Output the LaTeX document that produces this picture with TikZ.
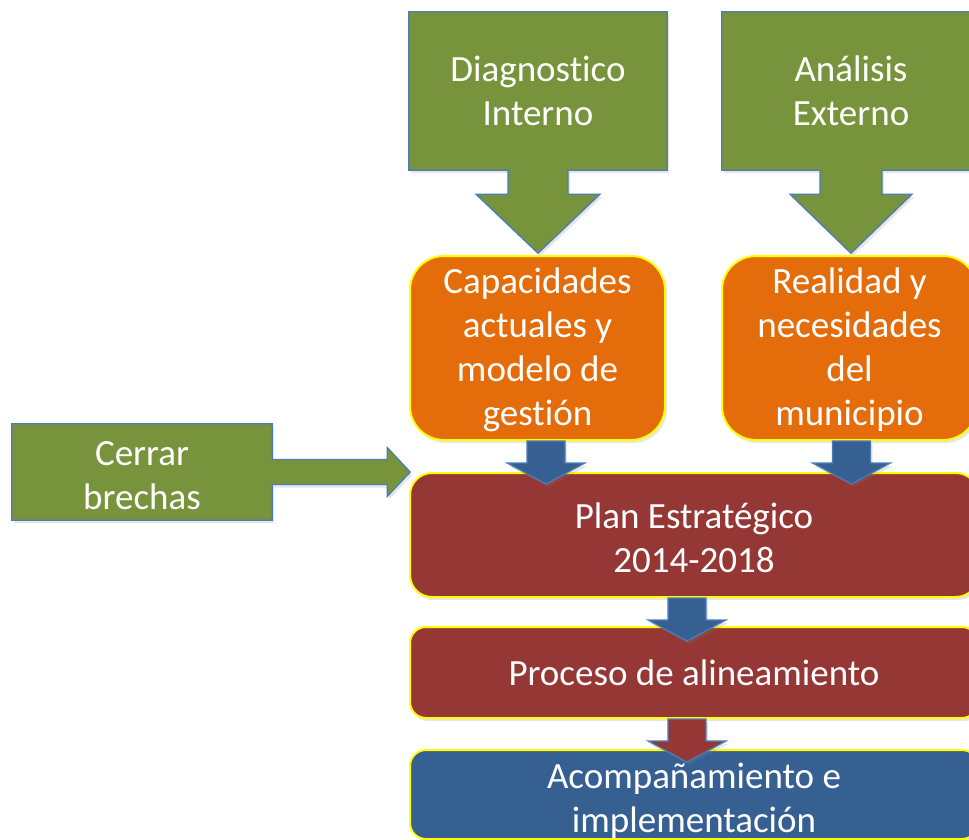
\documentclass[tikz,border=0pt]{standalone}
\usepackage{fontspec}
\setmainfont[Ligatures=NoCommon]{Carlito}
\usetikzlibrary{shadows,calc}
\definecolor{grn}{HTML}{77933C}
\definecolor{bord}{HTML}{4A7EBB}
\definecolor{org}{HTML}{E46C0A}
\definecolor{redb}{HTML}{953735}
\definecolor{blu}{HTML}{376092}
\definecolor{yel}{HTML}{FFFF00}
\pgfdeclarelayer{bg}
\pgfsetlayers{bg,main}
\tikzset{
  shad/.style={drop shadow={shadow xshift=2pt,shadow yshift=-3pt,opacity=0.2}},
  lbl/.style={text=white,align=center,font=\fontsize{37}{44}\selectfont,inner sep=0pt},
  gshape/.style={fill=grn,draw=bord,line width=1.3pt,shad},
  rbox/.style={draw=yel,line width=2pt,shad,inner sep=0pt},
  darrow/.pic={\draw[pic actions,line width=1.2pt,shad] (-19,0) -- (-19,22) -- (-39,22) -- (0,43) -- (39,22) -- (19,22) -- (19,0) -- cycle;}
}
\begin{document}
\begin{tikzpicture}[x=1pt,y=-1pt]
\useasboundingbox (0,0) rectangle (969,840);

% label nodes for the green block shapes
\node[lbl,minimum width=258pt,minimum height=158pt] (diag) at (538,91) {Diagnostico\\Interno};
\node[lbl,minimum width=258pt,minimum height=158pt] (anal) at (851,91) {Análisis\\Externo};
\node[minimum width=260pt,minimum height=96pt,inner sep=0pt] (cerr) at (142,472) {};
\node[lbl] (cerrt) at ($(cerr)+(0,4)$) {Cerrar\\brechas};

\begin{pgfonlayer}{bg}
\draw[gshape] (diag.north west) -- (diag.north east) -- (diag.south east)
  -- ($(diag.south)+(30,0)$) -- ++(0,24) -- ++(32,0) -- ($(diag.south)+(0,83)$)
  -- ($(diag.south)+(-62,24)$) -- ++(32,0) -- ($(diag.south)+(-30,0)$)
  -- (diag.south west) -- cycle;
\draw[gshape] (anal.north west) -- (anal.north east) -- (anal.south east)
  -- ($(anal.south)+(31,0)$) -- ++(0,24) -- ++(30,0) -- ($(anal.south)+(0,83)$)
  -- ($(anal.south)+(-61,24)$) -- ++(30,0) -- ($(anal.south)+(-31,0)$)
  -- (anal.south west) -- cycle;
\draw[gshape] (cerr.north west) -- (cerr.north east)
  -- ($(cerr.east)+(0,-12.5)$) -- ++(115,0) -- ++(0,-12) -- ($(cerr.east)+(138,0)$)
  -- ($(cerr.east)+(115,24.5)$) -- ++(0,-12) -- ($(cerr.east)+(0,12.5)$)
  -- (cerr.south east) -- (cerr.south west) -- cycle;
\end{pgfonlayer}

% rounded boxes
\node[rbox,fill=org,minimum width=255pt,minimum height=184pt,rounded corners=34pt] (cap) at (537.5,348) {};
\node[lbl] (capt) at ($(cap)+(0,2)$) {Capacidades\\actuales y\\modelo de\\gestión};
\node[rbox,fill=org,minimum width=255pt,minimum height=184pt,rounded corners=34pt] (real) at (849.5,348) {};
\node[lbl] (realt) at ($(real)+(0,2)$) {Realidad y\\necesidades\\del\\municipio};
\node[rbox,fill=redb,minimum width=568pt,minimum height=124pt,rounded corners=22pt] (plan) at (694,535) {};
\node[lbl] (plant) at ($(plan)+(0,3)$) {Plan Estratégico\\2014-2018};
\node[rbox,fill=redb,minimum width=568pt,minimum height=91pt,rounded corners=16pt] (proc) at (694,672.5) {};
\node[lbl] (proct) at (proc) {Proceso de alineamiento};
\node[rbox,fill=blu,minimum width=568pt,minimum height=89pt,rounded corners=16pt] (acomp) at (694,794.5) {};

% small block arrows
\pic[fill=blu,draw=bord] at ($(cap.south)+(8.5,0)$) {darrow};
\pic[fill=blu,draw=bord] at ($(real.south)+(2,0)$) {darrow};
\pic[fill=blu,draw=bord] at ($(plan.south)+(-7,0)$) {darrow};
\pic[fill=redb,draw=bord] at ($(proc.south)+(-7,0)$) {darrow};

\node[lbl] (acompt) at ($(acomp)+(0,6)$) {Acompañamiento e\\implementación};
\end{tikzpicture}
\end{document}
